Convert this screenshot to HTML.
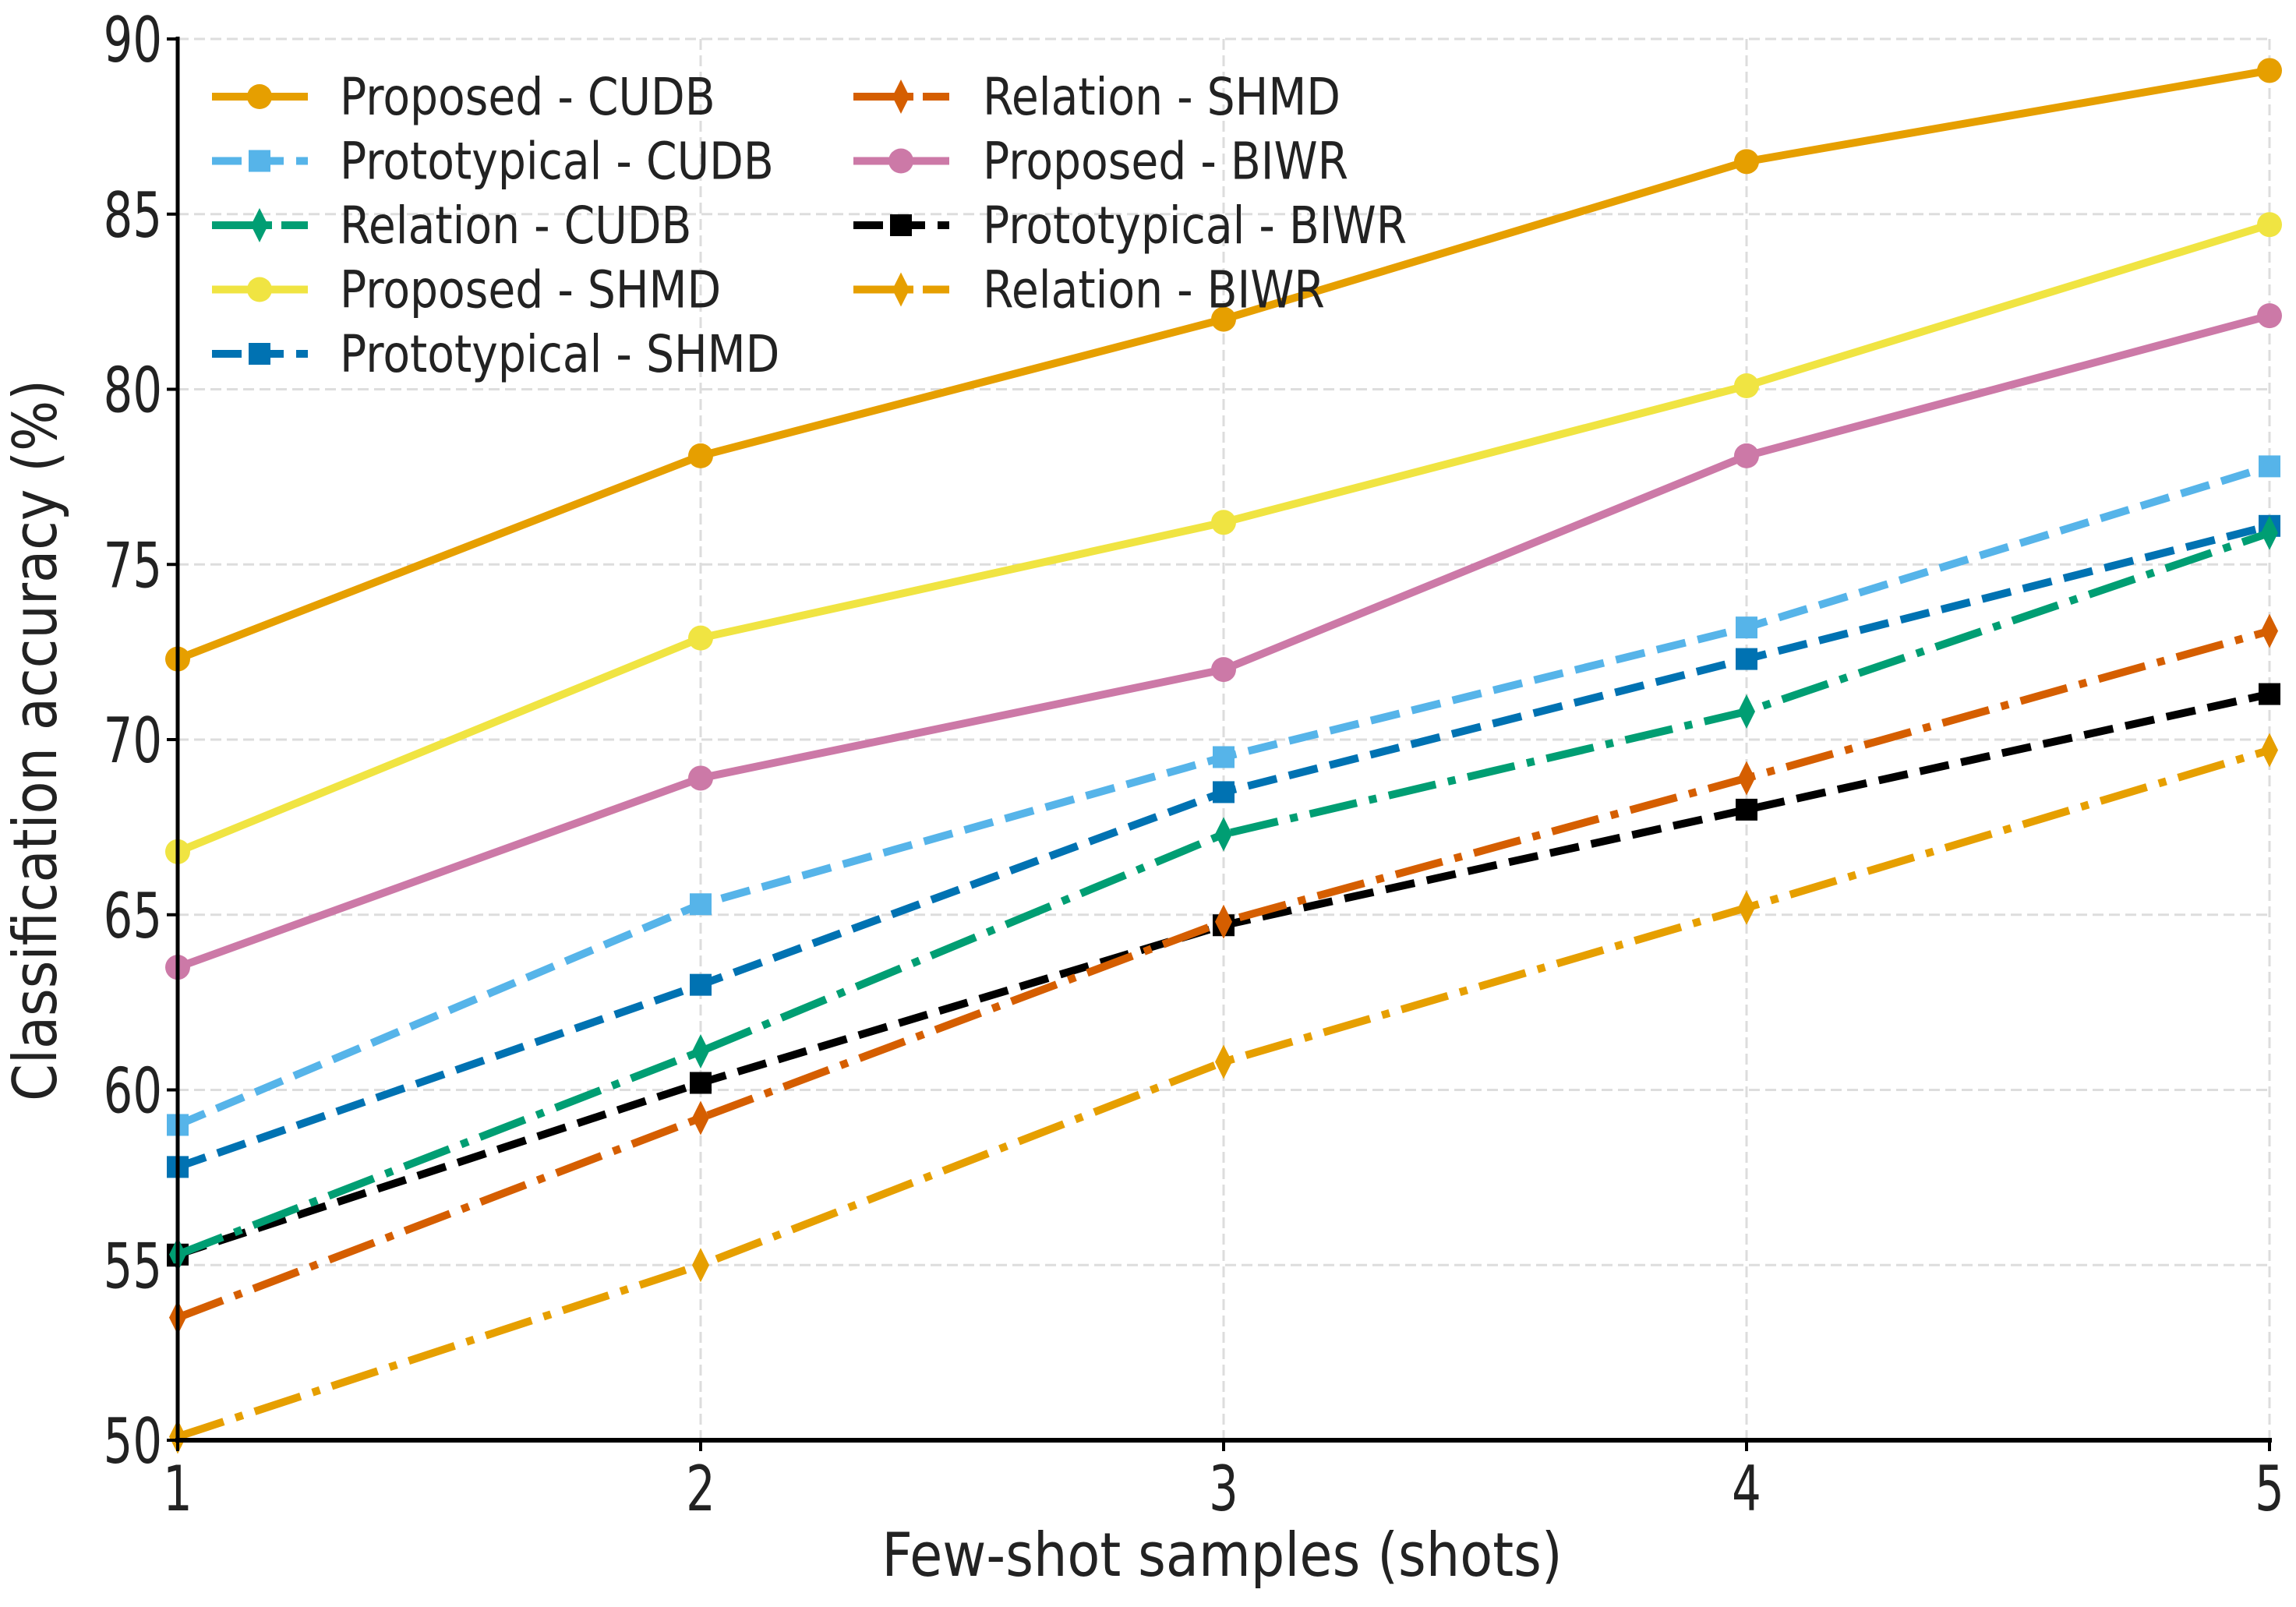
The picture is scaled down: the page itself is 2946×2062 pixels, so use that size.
<!DOCTYPE html>
<html><head><meta charset="utf-8"><style>
html,body{margin:0;padding:0;background:#fff}
svg{display:block}
text{font-family:"DejaVu Sans","Liberation Sans",sans-serif;fill:#222}
</style></head><body>
<svg id="chart" width="2946" height="2062" viewBox="0 0 2946 2062" xmlns="http://www.w3.org/2000/svg">
<g id="grid"></g>
<g id="series"></g>
<g id="axes"></g>
<g id="legend"></g>
<text x="0" y="0" font-size="78" text-anchor="middle" transform="translate(1568,2022) scale(0.88,1)">Few-shot samples (shots)</text>
<text x="0" y="0" font-size="78" text-anchor="middle" transform="translate(72,950) rotate(-90) scale(0.88,1)">Classification accuracy (%)</text>
</svg>
<script>
const xCategories = [1, 2, 3, 4, 5];
const yTicks = [50, 55, 60, 65, 70, 75, 80, 85, 90];
const seriesNames = ["Proposed - CUDB","Prototypical - CUDB","Relation - CUDB","Proposed - SHMD","Prototypical - SHMD","Relation - SHMD","Proposed - BIWR","Prototypical - BIWR","Relation - BIWR"];
const proposedCUDB = [72.3, 78.1, 82.0, 86.5, 89.1];
const protoCUDB = [59.0, 65.3, 69.5, 73.2, 77.8];
const relationCUDB = [55.3, 61.1, 67.3, 70.8, 75.9];
const proposedSHMD = [66.8, 72.9, 76.2, 80.1, 84.7];
const protoSHMD = [57.8, 63.0, 68.5, 72.3, 76.1];
const relationSHMD = [53.5, 59.2, 64.8, 68.9, 73.1];
const proposedBIWR = [63.5, 68.9, 72.0, 78.1, 82.1];
const protoBIWR = [55.3, 60.2, 64.7, 68.0, 71.3];
const relationBIWR = [50.1, 55.0, 60.8, 65.2, 69.7];

const NS = "http://www.w3.org/2000/svg";
const L = 228, R = 2912, T = 50, B = 1848;
const xScale = v => L + (v - 1) / 4 * (R - L);
const yScale = v => B - (v - 50) / 40 * (B - T);
function mk(tag, attrs, parent){const e=document.createElementNS(NS,tag);for(const k in attrs)e.setAttribute(k,attrs[k]);parent.appendChild(e);return e;}
const grid=document.getElementById('grid'), axes=document.getElementById('axes'), sg=document.getElementById('series'), lg=document.getElementById('legend');

yTicks.forEach(t=>{
  const y=yScale(t);
  const g=mk('line',{x1:L,x2:R,y1:y,y2:y,stroke:'#ddd','stroke-width':3,'stroke-dasharray':'14,7'},grid);
  
  
  const tk=mk('line',{x1:L-14,x2:L,y1:y,y2:y,stroke:'#000','stroke-width':4},axes);
  
  
  const tx=mk('text',{x:0,y:0,'font-size':80,'text-anchor':'end',transform:`translate(${L-20},${y+29}) scale(0.74,1)`},axes);
  tx.textContent=t;
  
  
});
xCategories.forEach(c=>{
  const x=xScale(c);
  const g=mk('line',{x1:x,x2:x,y1:T,y2:B,stroke:'#ddd','stroke-width':3,'stroke-dasharray':'14,7'},grid);
  
  
  const tk=mk('line',{x1:x,x2:x,y1:B,y2:B+14,stroke:'#000','stroke-width':4},axes);
  
  
  const tx=mk('text',{x:0,y:0,'font-size':80,'text-anchor':'middle',transform:`translate(${x},${B+90}) scale(0.74,1)`},axes);
  tx.textContent=c;
  
  
});
const ax1=mk('line',{x1:L,x2:L,y1:T-3,y2:B+3,stroke:'#000','stroke-width':5},axes);


const ax2=mk('line',{x1:L-3,x2:R+3,y1:B,y2:B,stroke:'#000','stroke-width':6},axes);



const SOLID='none', DASH='38,16', DASHDOT='62,16,10,16';
const styles=[
 {d:proposedCUDB,c:'#E69F00',dash:SOLID,m:'o'},
 {d:protoCUDB,c:'#56B4E9',dash:DASH,m:'s'},
 {d:relationCUDB,c:'#009E73',dash:DASHDOT,m:'d'},
 {d:proposedSHMD,c:'#F0E442',dash:SOLID,m:'o'},
 {d:protoSHMD,c:'#0072B2',dash:DASH,m:'s'},
 {d:relationSHMD,c:'#D55E00',dash:DASHDOT,m:'d'},
 {d:proposedBIWR,c:'#CC79A7',dash:SOLID,m:'o'},
 {d:protoBIWR,c:'#000000',dash:DASH,m:'s'},
 {d:relationBIWR,c:'#E69F00',dash:DASHDOT,m:'d'}
];
function marker(type,x,y,c,parent){
  let e;
  if(type==='o') e=mk('circle',{cx:x,cy:y,r:16,fill:c},parent);
  else if(type==='s') e=mk('rect',{x:x-14,y:y-14,width:28,height:28,fill:c},parent);
  else e=mk('polygon',{points:`${x},${y-22} ${x+11},${y} ${x},${y+22} ${x-11},${y}`,fill:c},parent);
  return e;
}
const drawOrder=[8,7,5,4,2,1,6,3,0];
drawOrder.forEach(i=>{
  const s=styles[i];
  const g=mk('g',{},sg);
  
  
  const pts=s.d.map((v,j)=>xScale(xCategories[j])+','+yScale(v)).join(' ');
  const pl=mk('polyline',{points:pts,fill:'none',stroke:s.c,'stroke-width':10,'stroke-linejoin':'round'},g);
  if(s.dash!=='none') pl.setAttribute('stroke-dasharray',s.dash);
  
  
  s.d.forEach((v,j)=>{
    const m=marker(s.m,xScale(xCategories[j]),yScale(v),s.c,g);
    
    
  });
});
styles.forEach((s,i)=>{
  const col=i<5?0:1, row=i<5?i:i-5;
  const x0=col?1095:272, y=124+row*82.5;
  const g=mk('g',{},lg);
  
  
  const ln=mk('line',{x1:x0,x2:x0+123,y1:y,y2:y,stroke:s.c,'stroke-width':10},g);
  if(s.dash!=='none') ln.setAttribute('stroke-dasharray',s.dash==='38,16'?'38,16':'55,12,10,12');
  marker(s.m,x0+61,y,s.c,g);
  const t=mk('text',{x:0,y:0,'font-size':66,transform:`translate(${col?1261:436},${y+23}) scale(0.86,1)`},g);
  t.textContent=seriesNames[i];
});
</script>
</body></html>
